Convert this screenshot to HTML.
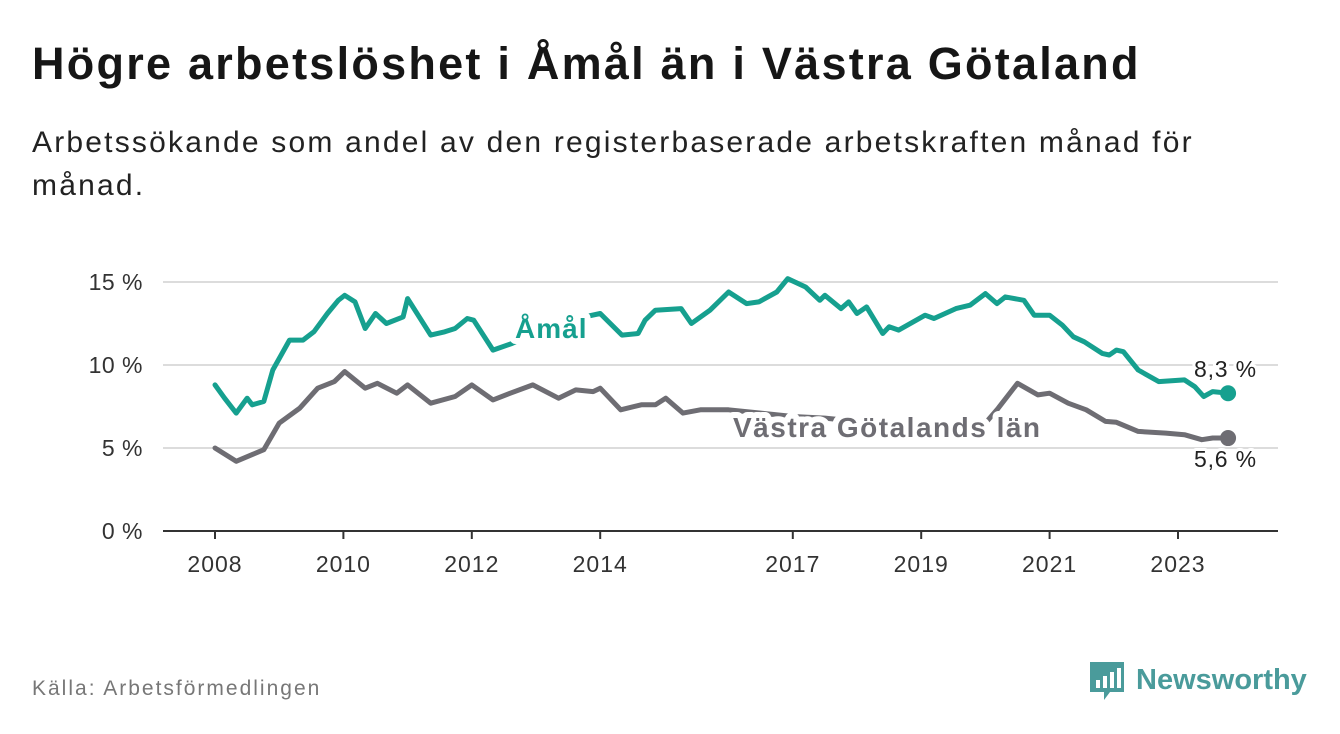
<!DOCTYPE html>
<html><head><meta charset="utf-8">
<style>
body{margin:0;background:#fff;width:1340px;height:734px;overflow:hidden;font-family:"Liberation Sans",sans-serif;}
.t{position:absolute;left:32px;top:38px;font-size:45px;letter-spacing:2.25px;font-weight:bold;color:#161616;margin:0;white-space:nowrap;}
.s{position:absolute;left:32px;top:121px;width:1200px;font-size:30px;letter-spacing:2.2px;line-height:43px;color:#222;margin:0;}
.src{position:absolute;left:32px;top:677px;font-size:21px;letter-spacing:2px;color:#777;}
</style></head><body>
<h1 class="t">Högre arbetslöshet i Åmål än i Västra Götaland</h1>
<p class="s">Arbetssökande som andel av den registerbaserade arbetskraften månad för månad.</p>
<div class="src">Källa: Arbetsförmedlingen</div>
<svg id="logo" style="position:absolute;left:1088px;top:660px" width="230" height="46">
<path d="M2 2h34v30h-14l-6 8v-8H2z" fill="#4a9b9b"/>
<rect x="8" y="20" width="4" height="8" fill="#fff"/><rect x="15" y="16" width="4" height="12" fill="#fff"/><rect x="22" y="12" width="4" height="16" fill="#fff"/><rect x="29" y="8" width="4" height="20" fill="#fff"/>
<text x="48" y="29" font-size="29" font-weight="bold" fill="#4a9b9b" font-family="Liberation Sans, sans-serif">Newsworthy</text>
</svg>
<svg id="chart" style="position:absolute;left:0;top:0" width="1340" height="734"></svg>
<script>
const yTicks=[0,5,10,15];
const xTicks=[2008,2010,2012,2014,2017,2019,2021,2023];
const amalYears=[2008.0,2008.15,2008.33,2008.5,2008.58,2008.76,2008.9,2009.16,2009.37,2009.54,2009.75,2009.92,2010.02,2010.18,2010.34,2010.5,2010.67,2010.93,2011.0,2011.36,2011.58,2011.74,2011.93,2012.03,2012.33,2012.63,2012.9,2013.2,2013.5,2013.75,2014.0,2014.34,2014.59,2014.7,2014.86,2015.26,2015.42,2015.71,2016.0,2016.28,2016.47,2016.75,2016.92,2017.2,2017.42,2017.5,2017.75,2017.87,2018.0,2018.15,2018.4,2018.5,2018.65,2019.06,2019.2,2019.54,2019.76,2020.0,2020.18,2020.31,2020.6,2020.76,2021.0,2021.2,2021.37,2021.54,2021.82,2021.93,2022.04,2022.15,2022.38,2022.7,2023.1,2023.26,2023.4,2023.54,2023.78];
const amalValues=[8.8,8.0,7.1,8.0,7.6,7.8,9.7,11.5,11.5,12.0,13.1,13.9,14.2,13.8,12.2,13.1,12.5,12.9,14.0,11.8,12.0,12.2,12.8,12.7,10.9,11.3,11.8,12.4,12.8,12.9,13.1,11.8,11.9,12.7,13.3,13.4,12.5,13.3,14.4,13.7,13.8,14.4,15.2,14.7,13.9,14.2,13.4,13.8,13.1,13.5,11.9,12.3,12.1,13.0,12.8,13.4,13.6,14.3,13.7,14.1,13.9,13.0,13.0,12.4,11.7,11.4,10.7,10.6,10.9,10.8,9.7,9.0,9.1,8.7,8.1,8.4,8.3];
const vgYears=[2008.0,2008.33,2008.58,2008.76,2009.0,2009.32,2009.6,2009.86,2010.02,2010.34,2010.53,2010.83,2011.0,2011.36,2011.74,2012.0,2012.33,2012.6,2012.95,2013.35,2013.62,2013.89,2014.0,2014.32,2014.64,2014.86,2015.02,2015.29,2015.56,2016.0,2016.5,2017.0,2017.5,2018.0,2018.5,2019.0,2019.5,2020.0,2020.2,2020.5,2020.82,2021.0,2021.29,2021.57,2021.87,2022.04,2022.38,2022.81,2023.1,2023.37,2023.54,2023.78];
const vgValues=[5.0,4.2,4.6,4.9,6.5,7.4,8.6,9.0,9.6,8.6,8.9,8.3,8.8,7.7,8.1,8.8,7.9,8.3,8.8,8.0,8.5,8.4,8.6,7.3,7.6,7.6,8.0,7.1,7.3,7.3,7.1,6.9,6.8,6.6,6.5,6.4,6.4,6.5,7.4,8.9,8.2,8.3,7.7,7.3,6.6,6.55,6.0,5.9,5.8,5.5,5.6,5.6];
const NS="http://www.w3.org/2000/svg";
const svg=document.getElementById('chart');
const X0=163,X1=1278;
function xs(yr){return 215+(yr-2008)*64.2;}
function ys(v){return 531-v*16.6;}
function el(tag,attrs,parent){const e=document.createElementNS(NS,tag);for(const k in attrs)e.setAttribute(k,attrs[k]);(parent||svg).appendChild(e);return e;}
yTicks.forEach(v=>{
  if(v>0){const g=el('line',{x1:X0,x2:X1,y1:ys(v),y2:ys(v),stroke:'#dcdcdc','stroke-width':2});
  
  }
  const t=el('text',{x:143,y:ys(v)+8,'text-anchor':'end','font-size':23,'letter-spacing':0.5,fill:'#333'});
  
  
  t.textContent=v+' %';
});
const ax=el('line',{x1:X0,x2:X1,y1:531,y2:531,stroke:'#333','stroke-width':2});


xTicks.forEach(yr=>{
  const tk=el('line',{x1:xs(yr),x2:xs(yr),y1:531,y2:539,stroke:'#333','stroke-width':2});
  
  
  const t=el('text',{x:xs(yr),y:572,'text-anchor':'middle','font-size':23,'letter-spacing':1,fill:'#333'});
  
  
  t.textContent=yr;
});
function series(years,vals,color,name){
  const d=years.map((y,i)=>(i?'L':'M')+xs(y).toFixed(1)+' '+ys(vals[i]).toFixed(1)).join(' ');
  const p=el('path',{d:d,fill:'none',stroke:color,'stroke-width':5,'stroke-linejoin':'round','stroke-linecap':'round'});
  
  
  const n=years.length-1;
  const c=el('circle',{cx:xs(years[n]),cy:ys(vals[n]),r:8,fill:color});
  
  
}
series(vgYears,vgValues,'#6e6d73','vastra-gotaland');
series(amalYears,amalValues,'#16a08f','amal');
function label(x,y,txt,color,size,bold,name,halo,ls){
  const t=el('text',{x:x,y:y,'font-size':size,'letter-spacing':ls,'font-weight':bold?'bold':'normal',fill:color,stroke:'#fff','stroke-width':halo,'paint-order':'stroke','stroke-linejoin':'round'});
  
  
  t.textContent=txt;
}
label(515,338,'Åmål','#16a08f',28,true,'amal-series-label',12,1);
label(733,437,'Västra Götalands län','#6e6d73',28,true,'vastra-gotaland-series-label',12,1.5);
const n1=amalValues.length-1,n2=vgValues.length-1;
label(1194,377,amalValues[n1].toFixed(1).replace('.',',')+' %','#222',23,false,'amal-end-value',6,0.8);
label(1194,467,vgValues[n2].toFixed(1).replace('.',',')+' %','#222',23,false,'vastra-gotaland-end-value',6,0.8);
</script>
</body></html>
